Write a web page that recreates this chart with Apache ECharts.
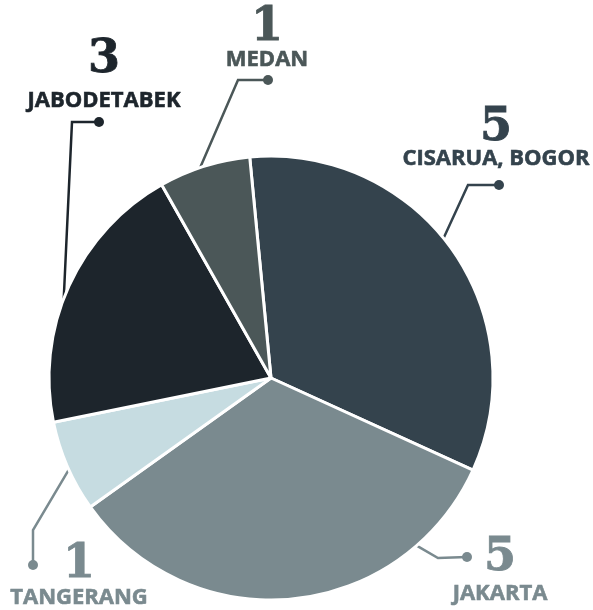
<!DOCTYPE html>
<html>
<head>
<meta charset="utf-8">
<script src="https://cdn.jsdelivr.net/npm/echarts@6/dist/echarts.min.js"></script>
<style>
  html, body { margin: 0; padding: 0; background: #fff; }
  #pie { width: 593px; height: 610px; }
</style>
</head>
<body>
<div id="pie"></div>
<script>
// data
var categories = ['CISARUA, BOGOR', 'JAKARTA', 'TANGERANG', 'JABODETABEK', 'MEDAN'];
var values = [5, 5, 1, 3, 1];

// styles
var sliceColors = ['#34434d', '#7a8a8f', '#c6dce1', '#1d252c', '#4b5758'];
var textColors = ['#34434d', '#7a8a8f', '#7a8a8f', '#1d252c', '#4b5758'];

var CX = 271, CY = 378, R = 222;

// where each label sits: start angle of the line on the rim, elbow, dot, text
var labelPos = [
  {a: 39,     elbow: [468, 185], dot: [499, 185], x: 496, numY: 128, nameY: 159},
  {a: -49,    elbow: [438, 558], dot: [467, 557], x: 500, numY: 558, nameY: 594},
  {a: -155.6, elbow: [33, 530],  dot: [33, 565],  x: 79,  numY: 565, nameY: 598},
  {a: 159,    elbow: [72, 122],  dot: [99, 122],  x: 104, numY: 60,  nameY: 101},
  {a: 108.6,  elbow: [238, 80],  dot: [268, 80],  x: 267, numY: 28,  nameY: 60}
];

function rimPoint(deg) {
  var r = deg * Math.PI / 180;
  return [CX + R * Math.cos(r), CY - R * Math.sin(r)];
}

var myChart = echarts.init(document.getElementById('pie'), null, {renderer: 'canvas'});

var sliceData = categories.map(function (name, i) {
  return {
    name: name,
    value: values[i],
    itemStyle: {color: sliceColors[i]},
    label: {
      rich: {dot: {width: 10, height: 10, borderRadius: 5, backgroundColor: textColors[i]}}
    },
    labelLine: {lineStyle: {color: textColors[i], width: 2.5}}
  };
});

var textData = categories.map(function (name, i) {
  var p = labelPos[i];
  return {
    name: name,
    value: values[i],
    label: {
      rich: {
        num: {
          fontFamily: 'DejaVu Serif', fontWeight: 'bold', fontSize: 46,
          color: textColors[i], lineHeight: 2 * (p.nameY - p.numY) - 24, align: 'center',
          textBorderColor: textColors[i], textBorderWidth: 0.8
        },
        name: {
          fontFamily: 'Open Sans', fontWeight: 'bold', fontSize: 22,
          color: textColors[i], lineHeight: 24, align: 'center',
          textBorderColor: textColors[i], textBorderWidth: 0.6
        }
      }
    }
  };
});

var option = {
  animation: false,
  series: [
    {
      name: 'slices',
      type: 'pie',
      center: [CX, CY],
      radius: R,
      startAngle: 95.5,
      clockwise: true,
      silent: true,
      avoidLabelOverlap: false,
      itemStyle: {borderColor: '#ffffff', borderWidth: 3},
      label: {show: true, position: 'outside', formatter: '{dot| }'},
      labelLine: {show: true, length: 10, length2: 10},
      labelLayout: function (params) {
        var p = labelPos[params.dataIndex];
        return {
          x: p.dot[0], y: p.dot[1], align: 'center', verticalAlign: 'middle',
          labelLinePoints: [rimPoint(p.a), p.elbow.slice(), p.dot.slice()]
        };
      },
      data: sliceData
    },
    {
      name: 'labels',
      type: 'pie',
      center: [CX, CY],
      radius: R,
      startAngle: 95.5,
      clockwise: true,
      silent: true,
      avoidLabelOverlap: false,
      itemStyle: {color: 'rgba(0,0,0,0)'},
      label: {
        show: true, position: 'outside',
        formatter: function (params) {
          return '{num|' + params.value + '}\n{name|' + params.name + '}';
        }
      },
      labelLine: {show: false},
      labelLayout: function (params) {
        var p = labelPos[params.dataIndex];
        return {x: p.x, y: p.numY + 12, align: 'center', verticalAlign: 'middle'};
      },
      data: textData
    }
  ]
};
myChart.setOption(option);
</script>
</body>
</html>
